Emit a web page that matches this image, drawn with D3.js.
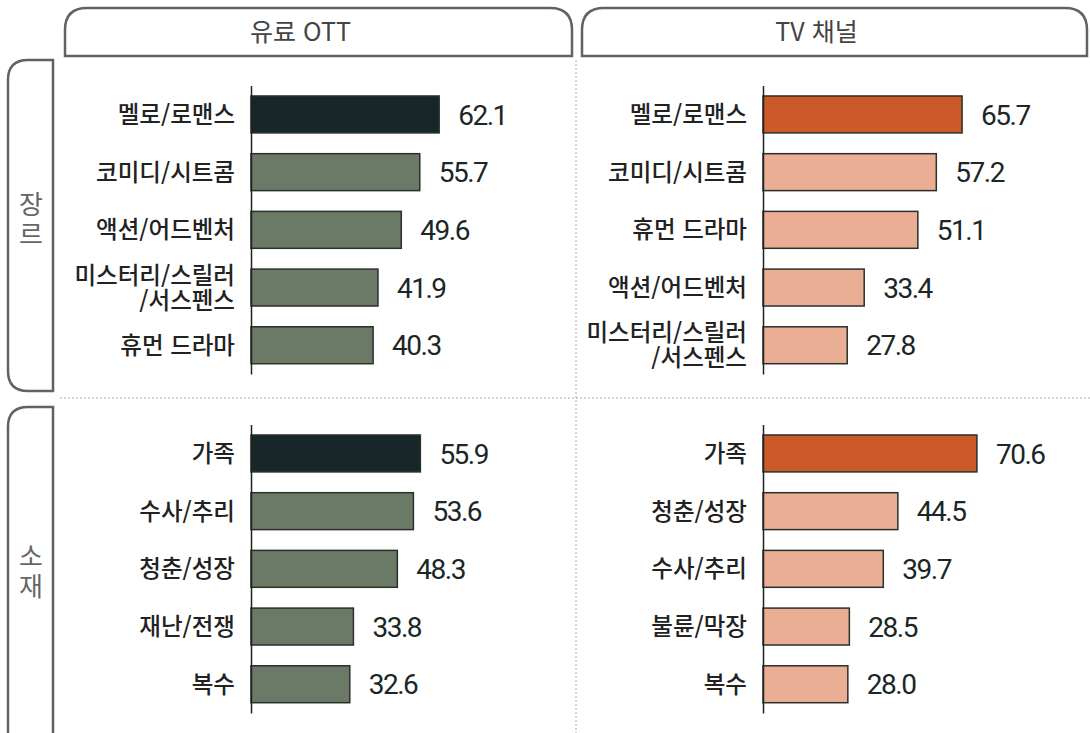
<!DOCTYPE html>
<html lang="ko">
<head>
<meta charset="UTF-8">
<title>유료 OTT vs TV 채널</title>
<script src="https://d3js.org/d3.v7.min.js"></script>
<style>
  body { margin: 0; background: #fff; }
  svg { display: block; }
  .cat { font-family: "Noto Sans CJK KR", sans-serif; font-size: 23.5px; font-weight: 500; fill: #222; }
  .val { font-family: Roboto, sans-serif; font-size: 28px; fill: #1b2626; letter-spacing: -1.5px; }
  .head { font-family: "Noto Sans CJK KR", sans-serif; font-size: 25px; font-weight: 400; fill: #444; }
  .side { font-family: "Noto Sans CJK KR", sans-serif; font-size: 26px; font-weight: 400; fill: #666; }
</style>
</head>
<body>
<svg width="1090" height="733"></svg>
<script>
// data
const panels = ["유료 OTT", "TV 채널"];
const rowLabels = ["장르", "소재"];

const genreOtt = ["멜로/로맨스", "코미디/시트콤", "액션/어드벤처", "미스터리/스릴러\n/서스펜스", "휴먼 드라마"];
const genreOttValues = [62.1, 55.7, 49.6, 41.9, 40.3];
const genreTv = ["멜로/로맨스", "코미디/시트콤", "휴먼 드라마", "액션/어드벤처", "미스터리/스릴러\n/서스펜스"];
const genreTvValues = [65.7, 57.2, 51.1, 33.4, 27.8];

const themeOtt = ["가족", "수사/추리", "청춘/성장", "재난/전쟁", "복수"];
const themeOttValues = [55.9, 53.6, 48.3, 33.8, 32.6];
const themeTv = ["가족", "청춘/성장", "수사/추리", "불륜/막장", "복수"];
const themeTvValues = [70.6, 44.5, 39.7, 28.5, 28.0];

const svg = d3.select("svg");
const frame = "#5e645f";

// panel colours: [highlight, rest]
const colors = [["#172628", "#6b7a66"], ["#cc5a28", "#e9ae93"]];

// header boxes (rounded top corners only)
const headers = [{x0: 65, x1: 572}, {x0: 582, x1: 1087}];
const roundTop = (x0, x1, y0, y1, r) =>
  `M${x0},${y1} L${x0},${y0 + r} Q${x0},${y0} ${x0 + r},${y0} L${x1 - r},${y0} Q${x1},${y0} ${x1},${y0 + r} L${x1},${y1} Z`;
headers.forEach((h, i) => {
  svg.append("path")
    .attr("d", roundTop(h.x0, h.x1, 8, 56, 22))
    .attr("fill", "none").attr("stroke", frame).attr("stroke-width", 2.5);
  svg.append("text").attr("class", "head")
    .attr("x", (h.x0 + h.x1) / 2 - 18).attr("y", 41)
    .attr("text-anchor", "middle").text(panels[i]);
});

// side boxes (rounded left corners only)
const sides = [{y0: 60, y1: 391}, {y0: 407, y1: 760}];
const roundLeft = (x0, x1, y0, y1, r) =>
  `M${x1},${y0} L${x0 + r},${y0} Q${x0},${y0} ${x0},${y0 + r} L${x0},${y1 - r} Q${x0},${y1} ${x0 + r},${y1} L${x1},${y1} Z`;
sides.forEach(s => {
  svg.append("path")
    .attr("d", roundLeft(8, 53, s.y0, s.y1, 20))
    .attr("fill", "none").attr("stroke", frame).attr("stroke-width", 2.5);
});
const sideCenters = [220, 572];
rowLabels.forEach((lab, i) => {
  const chars = lab.split("");
  chars.forEach((c, j) => {
    svg.append("text").attr("class", "side")
      .attr("x", 31).attr("y", sideCenters[i] + (j - (chars.length - 1) / 2) * 30)
      .attr("dy", "0.36em").attr("text-anchor", "middle").text(c);
  });
});

// dotted separators
svg.append("line").attr("x1", 576).attr("x2", 576).attr("y1", 60).attr("y2", 733)
  .attr("stroke", "#aaa").attr("stroke-dasharray", "2,2");
svg.append("line").attr("x1", 60).attr("x2", 1090).attr("y1", 398).attr("y2", 398)
  .attr("stroke", "#aaa").attr("stroke-dasharray", "2,2");

// scales
const x = d3.scaleLinear().domain([0, 100]).range([0, 303]);
const step = 57.7;
const axisX = [251, 763];
const rowTop = [85.6, 424.6];

const charts = [
  {cats: genreOtt, vals: genreOttValues, p: 0, r: 0},
  {cats: genreTv, vals: genreTvValues, p: 1, r: 0},
  {cats: themeOtt, vals: themeOttValues, p: 0, r: 1},
  {cats: themeTv, vals: themeTvValues, p: 1, r: 1}
];

charts.forEach(c => {
  const y = d3.scaleBand().domain(c.cats)
    .range([rowTop[c.r], rowTop[c.r] + c.cats.length * step])
    .paddingInner(0.36).paddingOuter(0.18);
  const g = svg.append("g").attr("transform", `translate(${axisX[c.p]},0)`);
  const data = c.cats.map((k, i) => ({k, v: c.vals[i], i}));

  g.selectAll("rect").data(data).join("rect")
    .attr("x", 0).attr("y", d => y(d.k))
    .attr("width", d => x(d.v)).attr("height", y.bandwidth())
    .attr("fill", d => d.i === 0 ? colors[c.p][0] : colors[c.p][1])
    .attr("stroke", "#2a302c").attr("stroke-width", 1.5);

  g.call(d3.axisLeft(y).tickSize(0).tickSizeOuter(0).tickFormat(""))
    .call(a => a.select(".domain").attr("stroke", "#222").attr("stroke-width", 1.5));

  g.selectAll(".val").data(data).join("text").attr("class", "val")
    .attr("text-anchor", "start")
    .attr("x", d => x(d.v) + 19).attr("y", d => y(d.k) + y.bandwidth() / 2)
    .attr("dy", "0.36em").text(d => d3.format(".1f")(d.v));

  g.selectAll(".cat").data(data).join("text").attr("class", "cat")
    .attr("text-anchor", "end")
    .each(function(d) {
      const lines = d.k.split("\n");
      const cy = y(d.k) + y.bandwidth() / 2;
      d3.select(this).selectAll("tspan").data(lines).join("tspan")
        .attr("x", -16)
        .attr("y", (l, j) => cy + (j - (lines.length - 1) / 2) * 25)
        .attr("dy", "0.36em")
        .text(l => l);
    });
});
</script>
</body>
</html>
